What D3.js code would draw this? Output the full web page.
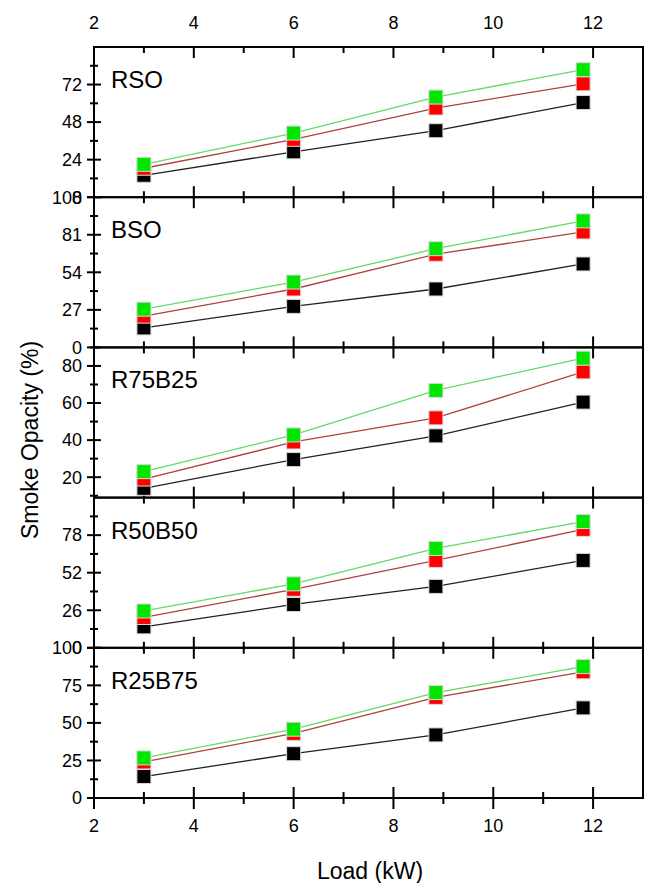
<!DOCTYPE html>
<html>
<head>
<meta charset="utf-8">
<script src="https://d3js.org/d3.v7.min.js"></script>
<style>
  body { margin: 0; background: #fff; }
  svg { font-family: "Liberation Sans", Arial, sans-serif; }
</style>
</head>
<body>
<div id="chart"></div>
<script>
// load values (kW), same for every fuel
var loads = [3, 6, 8.85, 11.8];

var fuels = ["RSO", "BSO", "R75B25", "R50B50", "R25B75"];

// smoke opacity (%) per fuel, one row per panel
var blackVals = [
  [14, 29, 42.5, 60.5],
  [14, 29.5, 42, 60],
  [14, 29.5, 42.3, 60.5],
  [14.5, 30, 42.5, 60.5],
  [14.3, 29.5, 42, 60]
];
var redVals = [
  [18.5, 37, 57, 72.5],
  [22.5, 42, 67, 83],
  [19, 39, 52, 76.8],
  [21, 40.5, 60.5, 82],
  [24, 43, 67, 84]
];
var greenVals = [
  [21, 41, 64, 81.5],
  [27.5, 47, 71, 91],
  [23, 42.8, 66.8, 84.2],
  [25.5, 44.3, 68.8, 87.4],
  [26.7, 45.8, 70.2, 87.5]
];

// y axes of each panel
var yDomains = [[0, 96], [0, 108], [9, 90], [0, 104], [0, 100]];
var yTicks = [
  [0, 24, 48, 72],
  [0, 27, 54, 81, 108],
  [20, 40, 60, 80],
  [0, 26, 52, 78],
  [0, 25, 50, 75, 100]
];
var yMinor = [
  [12, 36, 60, 84],
  [13.5, 40.5, 67.5, 94.5],
  [10, 30, 50, 70, 90],
  [13, 39, 65, 91],
  [12.5, 37.5, 62.5, 87.5]
];
var xTicks = [2, 4, 6, 8, 10, 12];
var xMinor = [3, 5, 7, 9, 11];

var width = 645, height = 883;
var margin = {left: 94, right: 643, top: 47, bottom: 798};
var panelH = (margin.bottom - margin.top) / fuels.length;

var svg = d3.select("#chart").append("svg")
    .attr("width", width)
    .attr("height", height);

var x = d3.scaleLinear().domain([2, 13]).range([margin.left, margin.right]);

var colors = { black: "#000000", red: "#ff0000", green: "#00e600" };
var lineColors = { black: "#222222", red: "#b04040", green: "#66d966" };

fuels.forEach(function(name, i) {
  var y0 = margin.top + i * panelH, y1 = y0 + panelH;
  var y = d3.scaleLinear().domain(yDomains[i]).range([y1, y0]);
  var g = svg.append("g");

  // x ticks, inward on top and bottom edges
  xTicks.concat(xMinor).forEach(function(t) {
    var len = xTicks.indexOf(t) >= 0 ? 11 : 6;
    if (t > 2) {
      g.append("line").attr("x1", x(t)).attr("x2", x(t))
          .attr("y1", y0).attr("y2", y0 + len)
          .attr("stroke", "#000").attr("stroke-width", 2);
      g.append("line").attr("x1", x(t)).attr("x2", x(t))
          .attr("y1", y1).attr("y2", y1 - len)
          .attr("stroke", "#000").attr("stroke-width", 2);
    }
  });

  // y ticks crossing the left edge
  yTicks[i].forEach(function(t) {
    g.append("line").attr("x1", margin.left - 7).attr("x2", margin.left + 7)
        .attr("y1", y(t)).attr("y2", y(t))
        .attr("stroke", "#000").attr("stroke-width", 2);
    g.append("text").attr("x", margin.left - 12).attr("y", y(t))
        .attr("dy", "0.35em")
        .attr("text-anchor", "end")
        .attr("font-size", 18)
        .text(t);
  });
  yMinor[i].forEach(function(t) {
    g.append("line").attr("x1", margin.left - 4).attr("x2", margin.left + 4)
        .attr("y1", y(t)).attr("y2", y(t))
        .attr("stroke", "#000").attr("stroke-width", 2);
  });

  var series = [
    { key: "black", vals: blackVals[i] },
    { key: "red", vals: redVals[i] },
    { key: "green", vals: greenVals[i] }
  ];

  var line = d3.line()
      .x(function(d) { return x(d[0]); })
      .y(function(d) { return y(d[1]); });

  series.forEach(function(s) {
    g.append("path")
        .datum(d3.zip(loads, s.vals))
        .attr("fill", "none")
        .attr("stroke", lineColors[s.key])
        .attr("stroke-width", 1.3)
        .attr("d", line);
  });
  series.forEach(function(s) {
    g.selectAll("rect." + s.key)
        .data(d3.zip(loads, s.vals))
        .enter().append("rect")
        .attr("class", s.key)
        .attr("x", function(d) { return x(d[0]) - 7; })
        .attr("y", function(d) { return y(d[1]) - 7; })
        .attr("width", 14).attr("height", 14)
        .attr("fill", colors[s.key])
        .attr("stroke", "#d8d8d8")
        .attr("stroke-width", 1);
  });

  g.append("text")
      .attr("x", 111).attr("y", y0 + 41)
      .attr("font-size", 24)
      .text(name);

  // frame
  g.append("rect")
      .attr("x", margin.left).attr("y", y0)
      .attr("width", margin.right - margin.left).attr("height", panelH)
      .attr("fill", "none")
      .attr("stroke", "#000").attr("stroke-width", 2);
});

// outward ticks on the bottom axis
xTicks.concat(xMinor).forEach(function(t) {
  var len = xTicks.indexOf(t) >= 0 ? 11 : 6;
  svg.append("line").attr("x1", x(t)).attr("x2", x(t))
      .attr("y1", margin.bottom).attr("y2", margin.bottom + len)
      .attr("stroke", "#000").attr("stroke-width", 2);
});

// tick labels on top and bottom
xTicks.forEach(function(t) {
  svg.append("text").attr("x", x(t)).attr("y", 29)
      .attr("text-anchor", "middle").attr("font-size", 18).text(t);
  svg.append("text").attr("x", x(t)).attr("y", 832)
      .attr("text-anchor", "middle").attr("font-size", 18).text(t);
});

svg.append("text")
    .attr("x", 370).attr("y", 879)
    .attr("text-anchor", "middle")
    .attr("font-size", 23)
    .text("Load (kW)");

svg.append("text")
    .attr("transform", "translate(38,440) rotate(-90)")
    .attr("text-anchor", "middle")
    .attr("font-size", 23)
    .text("Smoke Opacity (%)");
</script>
</body>
</html>
